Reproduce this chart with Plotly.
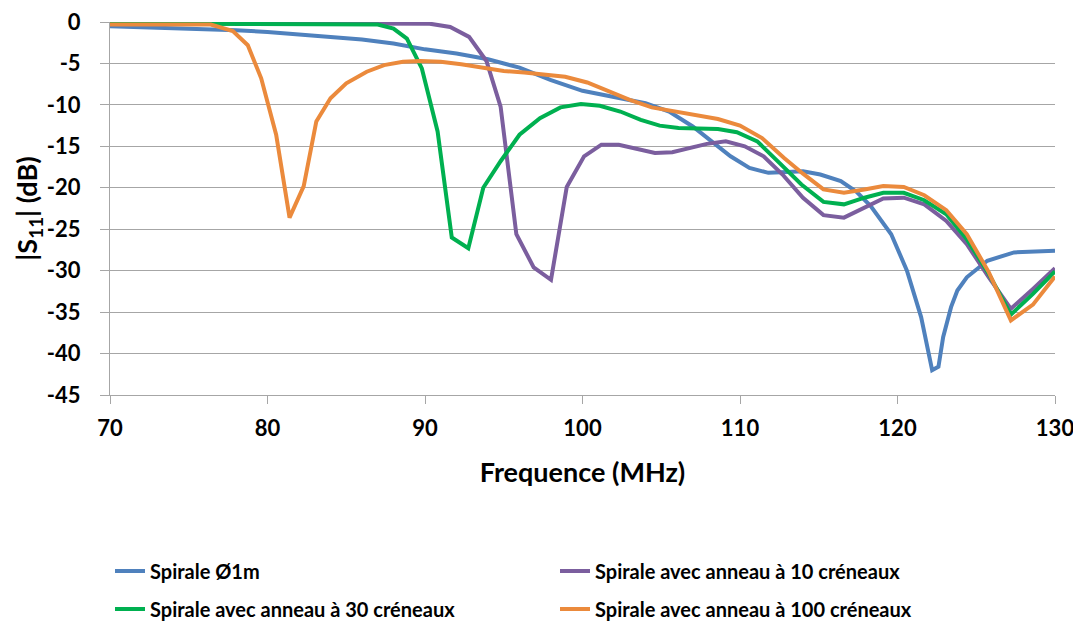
import plotly.graph_objects as go

# Spirale Ø1m
f_blue = [70, 72, 74, 76, 78, 80, 82, 84, 86, 88, 90, 92, 94, 96, 98, 100, 102, 104,
          105.5, 107, 108.2, 109.4, 110.6, 111.8, 113, 114, 115.1, 116.4, 117.4, 118.3,
          119.6, 120.6, 121.5, 121.9, 122.2, 122.6, 122.9, 123.4, 123.8, 124.4, 125.7,
          127.4, 130]
s_blue = [-0.5, -0.6, -0.7, -0.8, -1.0, -1.2, -1.5, -1.8, -2.1, -2.6, -3.3, -3.8, -4.5,
          -5.5, -7.0, -8.3, -9.0, -9.8, -10.8, -12.6, -14.4, -16.2, -17.6, -18.2, -18.1,
          -18.0, -18.4, -19.2, -20.5, -22.2, -25.6, -30.0, -35.6, -39.2, -42.0, -41.6,
          -38.0, -34.4, -32.4, -30.8, -28.8, -27.8, -27.6]

# anneau à 10 créneaux
f_purple = [70, 80, 88, 90.3, 91.6, 92.8, 93.9, 94.8, 95.8, 96.9, 98.0, 99.0, 100.1,
            101.2, 102.3, 103.4, 104.6, 105.7, 106.8, 107.9, 109.1, 110.3, 111.5, 112.7,
            114.0, 115.3, 116.6, 117.9, 119.1, 120.4, 121.7, 123.1, 124.4, 125.8, 127.2,
            128.6, 130]
s_purple = [-0.1, -0.1, -0.1, -0.2, -0.6, -1.8, -4.7, -10.2, -25.6, -29.6, -31.1, -19.9,
            -16.2, -14.8, -14.8, -15.3, -15.8, -15.7, -15.2, -14.7, -14.4, -15.0, -16.2,
            -18.4, -21.2, -23.3, -23.6, -22.4, -21.3, -21.2, -22.0, -24.0, -26.8, -30.8,
            -34.6, -32.2, -29.7]

# anneau à 30 créneaux
f_green = [70, 80, 86.0, 87.0, 88.0, 88.85, 89.8, 90.8, 91.7, 92.75, 93.7, 94.8, 96.0,
           97.3, 98.6, 99.9, 101.1, 102.4, 103.7, 104.9, 106.1, 107.3, 108.6, 109.8,
           111.1, 112.5, 113.9, 115.3, 116.6, 117.9, 119.1, 120.4, 121.7, 123.1, 124.4,
           125.8, 127.2, 128.6, 130]
s_green = [-0.2, -0.2, -0.2, -0.3, -0.8, -2.0, -5.6, -13.2, -26.0, -27.3, -20.0, -16.8,
           -13.6, -11.6, -10.3, -9.9, -10.1, -10.8, -11.8, -12.5, -12.8, -12.8, -12.9,
           -13.3, -14.4, -17.0, -19.6, -21.7, -22.0, -21.2, -20.6, -20.6, -21.5, -23.2,
           -26.2, -30.4, -35.3, -32.8, -30.1]

# anneau à 100 créneaux
f_orange = [70, 74, 76.4, 77.8, 78.75, 79.6, 80.55, 81.4, 82.3, 83.1, 84.0, 85.0, 86.3,
            87.4, 88.6, 89.7, 91.0, 92.3, 93.6, 95.0, 96.3, 97.6, 98.9, 100.3, 101.6,
            103.0, 104.4, 105.8, 107.2, 108.6, 110.0, 111.4, 112.8, 114.0, 115.3, 116.6,
            117.9, 119.1, 120.4, 121.7, 123.1, 124.4, 125.8, 127.2, 128.6, 130]
s_orange = [-0.3, -0.3, -0.3, -1.1, -2.8, -6.8, -13.6, -23.6, -19.8, -12.0, -9.2, -7.4,
            -6.0, -5.2, -4.8, -4.7, -4.8, -5.1, -5.5, -5.9, -6.1, -6.3, -6.6, -7.3, -8.3,
            -9.4, -10.3, -10.8, -11.2, -11.7, -12.5, -14.0, -16.4, -18.3, -20.2, -20.6,
            -20.2, -19.8, -19.9, -20.9, -22.7, -25.6, -30.2, -36.0, -34.1, -30.7]

x_ticks = [70, 80, 90, 100, 110, 120, 130]
y_ticks = [0, -5, -10, -15, -20, -25, -30, -35, -40, -45]
y_labels = ["0", "-5", "-10", "-15", "-20", "-25", "-30", "-35", "-40", "-45"]

FONT = "Lato"
GRID = "#A6A6A6"

fig = go.Figure()
fig.add_trace(go.Scatter(x=f_blue, y=s_blue, mode="lines", name="Spirale Ø1m",
                         line=dict(color="#4F81BD", width=4), legend="legend"))
fig.add_trace(go.Scatter(x=f_purple, y=s_purple, mode="lines",
                         name="Spirale avec anneau à 10 créneaux",
                         line=dict(color="#7B5E9E", width=4), legend="legend"))
fig.add_trace(go.Scatter(x=f_green, y=s_green, mode="lines",
                         name="Spirale avec anneau à 30 créneaux",
                         line=dict(color="#00B050", width=4), legend="legend2"))
fig.add_trace(go.Scatter(x=f_orange, y=s_orange, mode="lines",
                         name="Spirale avec anneau à 100 créneaux",
                         line=dict(color="#EB8A3C", width=4), legend="legend2"))

leg = dict(orientation="h", x=0.0, xanchor="left", yanchor="middle",
           entrywidth=400, entrywidthmode="pixels", bgcolor="rgba(0,0,0,0)",
           font=dict(family=FONT, size=20, color="#000", weight="bold"))

# the page body adds an 8px offset, so margins are shifted to compensate
fig.update_layout(
    width=1081, height=628,
    margin=dict(l=102, r=34, t=14, b=241, autoexpand=False),
    plot_bgcolor="white", paper_bgcolor="white",
    font=dict(family=FONT, color="#000"),
    legend=dict(leg, y=-0.472),
    legend2=dict(leg, y=-0.574),
    xaxis=dict(range=[70, 130], tickvals=x_ticks, showgrid=False, automargin=False,
               showline=True, linecolor=GRID, linewidth=1,
               ticks="outside", ticklen=8, tickcolor=GRID,
               ticklabelstandoff=6, ticklabeloverflow="allow",
               tickfont=dict(family=FONT, size=22, weight="bold"),
               title=dict(text="Frequence (MHz)", standoff=22,
                          font=dict(family=FONT, size=27, weight="bold"))),
    yaxis=dict(range=[-45, 0], tickvals=y_ticks, ticktext=y_labels, showgrid=True,
               automargin=False,
               gridcolor=GRID, gridwidth=1, zeroline=False,
               showline=True, linecolor=GRID, linewidth=1,
               ticks="outside", ticklen=9, tickcolor=GRID,
               ticklabelstandoff=15, ticklabeloverflow="allow",
               tickfont=dict(family=FONT, size=22, weight="bold"),
               title=dict(text="|S<sub>11</sub>| (dB)", standoff=0,
                          font=dict(family=FONT, size=27, weight="bold"))),
)

fig.write_html("out.html")
